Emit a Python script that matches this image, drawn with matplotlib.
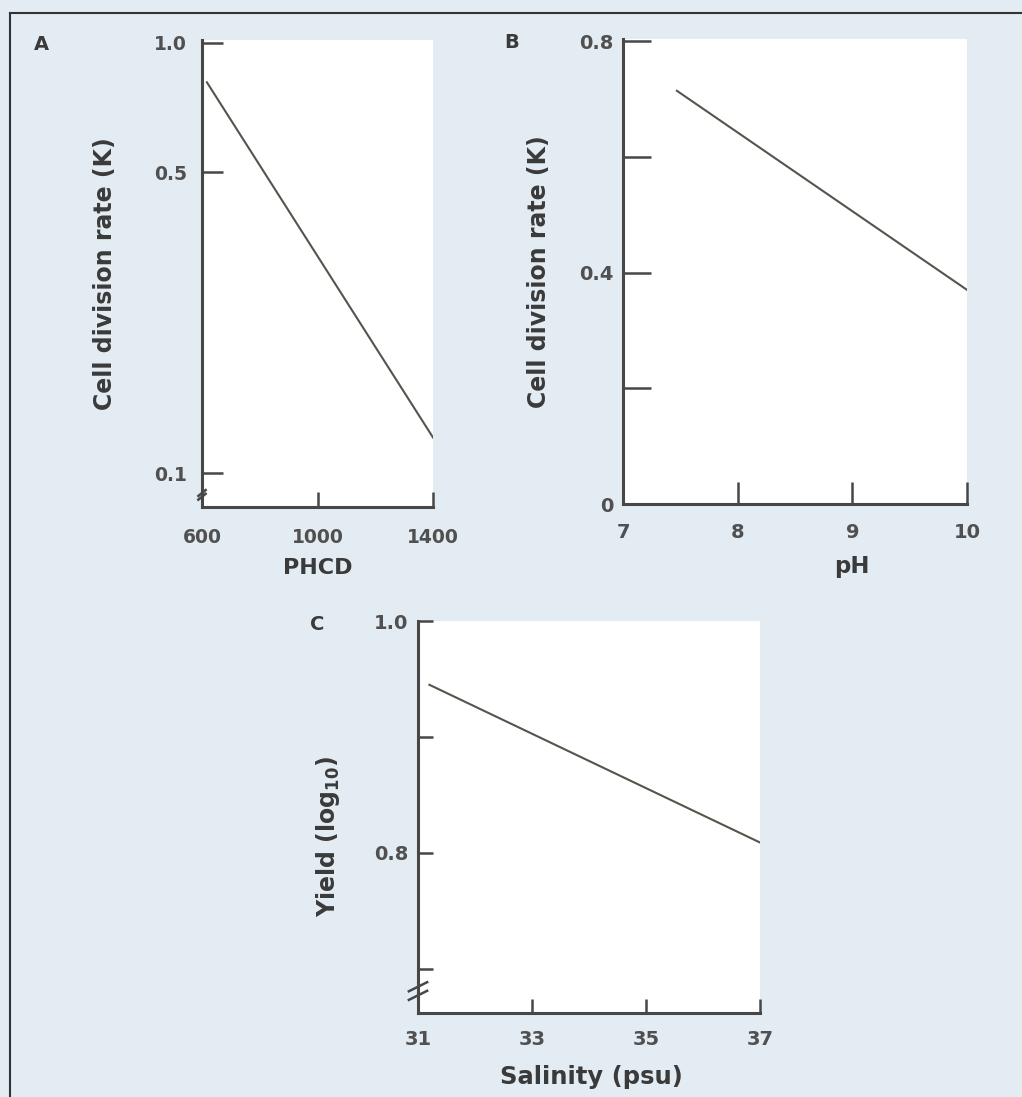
import matplotlib
matplotlib.use("Agg")
import matplotlib.pyplot as plt
from matplotlib.lines import Line2D
from matplotlib.ticker import FixedLocator, NullLocator

# panel A: cell division rate vs PHCD (log y)
phcd = [617, 1400]
rate_a = [0.81, 0.121]
a_xticks = [600, 1000, 1400]
a_yticks = [0.1, 0.5, 1.0]
a_ylabels = ["0.1", "0.5", "1.0"]

# panel B: cell division rate vs pH
ph = [7.47, 10.0]
rate_b = [0.714, 0.370]
b_xticks = [7, 8, 9, 10]
b_yticks = [0, 0.2, 0.4, 0.6, 0.8]
b_ylabels = ["0", "", "0.4", "", "0.8"]

# panel C: yield vs salinity
salinity = [31.2, 37.0]
yield_c = [0.945, 0.809]
c_xticks = [31, 33, 35, 37]
c_yticks = [0.7, 0.8, 0.9, 1.0]
c_ylabels = ["", "0.8", "", "1.0"]

BG = "#e4ecf3"
SPINE = "#474747"
LINE = "#55554c"
TXT = "#3a3a3a"
TICKTXT = "#505050"

plt.rcParams["font.family"] = ["DejaVu Sans"]
plt.rcParams["font.weight"] = "bold"
plt.rcParams["mathtext.default"] = "bf"

fig = plt.figure(figsize=(10.22, 10.97), dpi=100, facecolor=BG)
W, H = 1022, 1097


def make_ax(left, top, right, bottom):
    return fig.add_axes([left / W, 1 - bottom / H, (right - left) / W,
                         (bottom - top) / H], facecolor="white")


def style(ax, ylen, xlen, ypad, xpad, fs):
    for s in ("top", "right"):
        ax.spines[s].set_visible(False)
    for s in ("left", "bottom"):
        ax.spines[s].set_color(SPINE)
        ax.spines[s].set_linewidth(2.2)
    ax.tick_params(axis="y", direction="in", length=ylen, width=1.8,
                   color=SPINE, pad=ypad, labelsize=fs, labelcolor=TICKTXT)
    ax.tick_params(axis="x", direction="in", length=xlen, width=1.8,
                   color=SPINE, pad=xpad, labelsize=fs, labelcolor=TICKTXT)
    ax.tick_params(which="minor", length=0)
    for lab in ax.get_xticklabels() + ax.get_yticklabels():
        lab.set_fontweight("bold")


def axis_break(ax, y0, dx, dy, gap, n=2):
    for i in range(n):
        yy = y0 + i * gap
        ax.plot([-dx, dx], [yy - dy, yy + dy], color=SPINE, lw=1.8,
                transform=ax.transAxes, clip_on=False, solid_capstyle="butt")


# ---- A
axA = make_ax(202, 40, 433, 507)
axA.plot(phcd, rate_a, color=LINE, lw=1.5)
axA.set_yscale("log")
axA.set_xlim(600, 1400)
axA.set_ylim(0.0834, 1.016)
axA.yaxis.set_major_locator(FixedLocator(a_yticks))
axA.yaxis.set_minor_locator(NullLocator())
axA.set_yticklabels(a_ylabels)
axA.set_xticks(a_xticks)
style(axA, 15, 11, 11, 15, 13.5)
axA.set_ylabel("Cell division rate (K)", fontsize=17, color=TXT,
               fontweight="bold")
axA.yaxis.set_label_coords(-0.368, 0.5)
axA.set_xlabel("PHCD", fontsize=16, color=TXT, fontweight="bold")
axA.xaxis.set_label_coords(0.5, -0.109)
axis_break(axA, 0.022, 0.02, 0.008, 0.008)

# ---- B
axB = make_ax(623, 39, 967, 504)
axB.plot(ph, rate_b, color=LINE, lw=1.5)
axB.set_xlim(7, 10)
axB.set_ylim(0, 0.8035)
axB.set_yticks(b_yticks)
axB.set_yticklabels(b_ylabels)
axB.set_xticks(b_xticks)
style(axB, 20, 16, 7, 14, 14)
axB.set_ylabel("Cell division rate (K)", fontsize=17, color=TXT,
               fontweight="bold")
axB.yaxis.set_label_coords(-0.209, 0.5)
axB.set_xlabel("pH", fontsize=16.5, color=TXT, fontweight="bold")
axB.xaxis.set_label_coords(0.666, -0.11)

# ---- C
axC = make_ax(418, 621, 760, 1013)
axC.plot(salinity, yield_c, color=LINE, lw=1.5)
axC.set_xlim(31, 37)
axC.set_ylim(0.662, 1.0)
axC.set_yticks(c_yticks)
axC.set_yticklabels(c_ylabels)
axC.set_xticks(c_xticks)
style(axC, 11, 10, 7, 12, 14)
axC.set_ylabel("Yield (log$_{10}$)", fontsize=17, color=TXT,
               fontweight="bold")
axC.yaxis.set_label_coords(-0.222, 0.45)
axC.set_xlabel("Salinity (psu)", fontsize=17.5, color=TXT, fontweight="bold")
axC.xaxis.set_label_coords(0.508, -0.133)
axis_break(axC, 0.045, 0.03, 0.013, 0.022)

# panel letters
for letter, (px, py) in {"A": (41, 44), "B": (512, 42), "C": (317, 625)}.items():
    fig.text(px / W, 1 - py / H, letter, fontsize=14, fontweight="bold",
             color=TXT, ha="center", va="center")

# frame lines on top and left
fig.add_artist(Line2D([10 / W, 1], [1 - 13 / H, 1 - 13 / H], color="#333333",
                      lw=1.5, transform=fig.transFigure))
fig.add_artist(Line2D([10 / W, 10 / W], [0, 1 - 13 / H], color="#333333",
                      lw=1.5, transform=fig.transFigure))

fig.savefig("out.png", dpi=100, facecolor=BG)
